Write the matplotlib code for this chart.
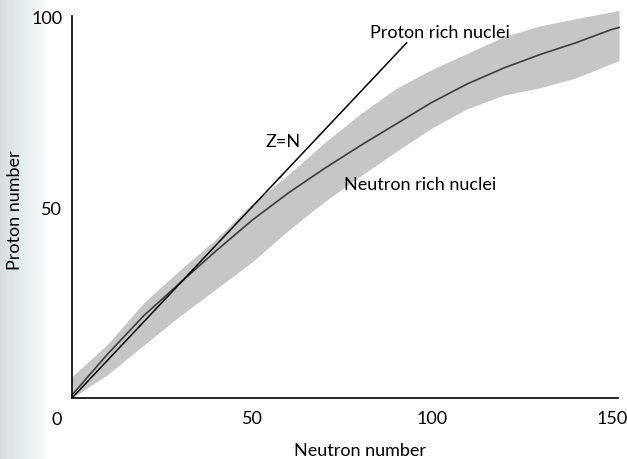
import numpy as np
import matplotlib.pyplot as plt

plt.rcParams['font.family'] = ['Lato', 'DejaVu Sans']

# Line of stability (Z against N) and the width of the band of stable nuclei
neutrons = [0, 10, 20, 30, 40, 50, 60, 70, 80, 90, 100, 110, 120, 130, 140, 150, 152]
z_centre = [0.8, 11.6, 21.6, 30.1, 38.5, 46.5, 53.6, 60.0, 66.0, 71.7, 77.4, 82.3, 86.4, 89.9, 93.0, 96.5, 97.0]
z_upper = [5.6, 14.2, 25.0, 33.5, 41.6, 50.8, 58.4, 66.7, 74.3, 81.0, 86.0, 90.3, 94.6, 97.4, 99.3, 101.1, 101.5]
z_lower = [0.0, 6.2, 13.9, 21.5, 28.5, 35.6, 43.8, 51.3, 58.0, 64.5, 70.7, 75.8, 79.3, 81.2, 83.8, 87.6, 88.3]

# Z = N reference line
zn_line = [0, 93]

x_ticks = [50, 100, 150]
y_ticks = [50, 100]

fs = 13

fig = plt.figure(figsize=(6.27, 4.60), dpi=100)

# faint shadow along the left edge of the page
shade = fig.add_axes([0, 0, 0.08, 1], zorder=-5)
grad = np.linspace(0, 1, 64)[None, :]
shade.imshow(grad, cmap='bone', vmin=-1.2, vmax=1.0, aspect='auto', alpha=0.3)
shade.axis('off')

ax = fig.add_axes([0.1148, 0.1326, 0.8708, 0.8304])
ax.patch.set_alpha(0)

ax.fill_between(neutrons, z_lower, z_upper, color='#c6c6c6', lw=0, clip_on=False, zorder=1)
ax.plot(neutrons, z_centre, color='#3c3c3c', lw=1.2, clip_on=False, zorder=2)
ax.plot(zn_line, zn_line, color='black', lw=1.1, zorder=3)

ax.text(58.6, 67.3, 'Z=N', ha='center', va='center', fontsize=fs)
ax.text(102.2, 95.8, 'Proton rich nuclei', ha='center', va='center', fontsize=fs)
ax.text(96.7, 56.0, 'Neutron rich nuclei', ha='center', va='center', fontsize=fs)

ax.set_xlim(0, 151.7)
ax.set_ylim(0, 100)
ax.set_xticks(x_ticks)
ax.set_yticks(y_ticks)
ax.tick_params(length=0, labelsize=fs)
ax.tick_params(axis='x', pad=8.5)
ax.tick_params(axis='y', pad=7)
ax.annotate('0', xy=(0, 0), xytext=(-15, -21), textcoords='offset pixels',
            ha='center', va='center', fontsize=fs, annotation_clip=False)

for side in ['top', 'right']:
    ax.spines[side].set_visible(False)
for side in ['left', 'bottom']:
    ax.spines[side].set_linewidth(1.2)

ax.set_xlabel('Neutron number', fontsize=fs)
ax.set_ylabel('Proton number', fontsize=fs)
ax.xaxis.set_label_coords(0.527, -0.115)
ax.yaxis.set_label_coords(-0.09, 0.495)

fig.savefig('out.png', dpi=100)
